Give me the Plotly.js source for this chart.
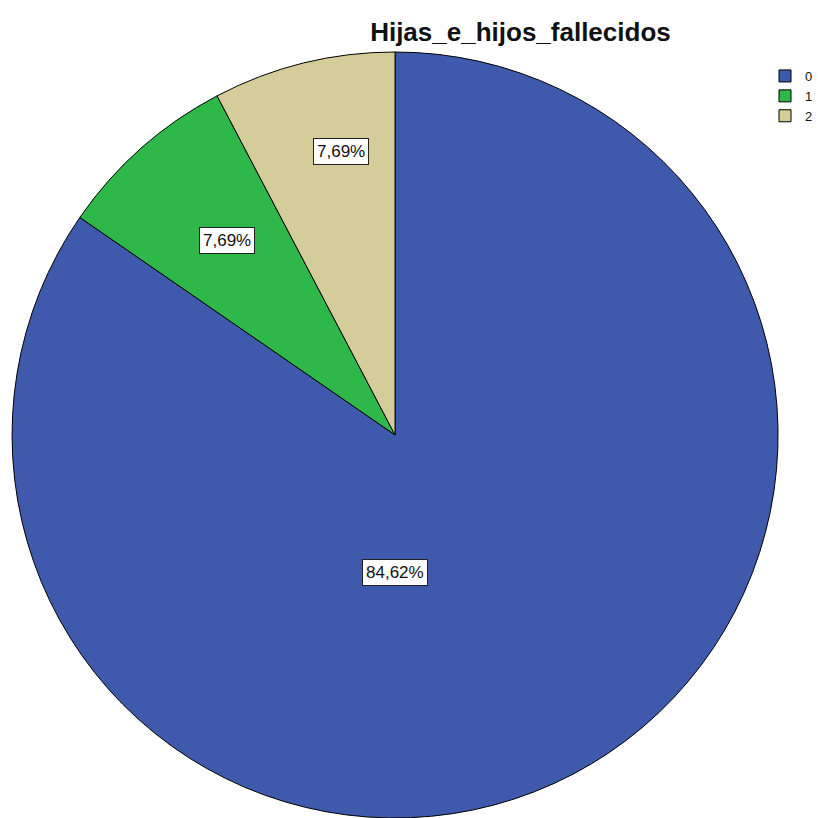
<!DOCTYPE html>
<html>
<head>
<meta charset="utf-8">
<script src="https://cdn.plot.ly/plotly-3.0.1.min.js"></script>
<style>html,body{margin:0;padding:0;background:#fff;}#chart{width:818px;height:818px;}</style>
</head>
<body>
<div id="chart"></div>
<script>
// Data
const categories = ["0", "1", "2"];
const counts = [11, 1, 1];
const sliceColors = ["#3F59AD", "#2EB84A", "#D4CC99"];
const chartTitle = "Hijas_e_hijos_fallecidos";

// Label box placement (layout, in pixels of the 818x818 page)
const labelPos = [[397, 572], [228, 241], [343, 152]];

const W = 818, H = 818;
const total = counts.reduce((a, b) => a + b, 0);
const pctText = counts.map(v => (v / total * 100).toFixed(2).replace('.', ',') + '%');

const FONT = '"Liberation Sans", Arial, sans-serif';

const trace = {
  type: 'pie',
  labels: categories,
  values: counts,
  sort: false,
  direction: 'clockwise',
  rotation: 0,
  textinfo: 'none',
  hoverinfo: 'label+percent',
  marker: { colors: sliceColors, line: { color: '#000000', width: 1 } },
  domain: { x: [12 / W, 782 / W], y: [0, 1 - 52 / H] }
};

const annotations = labelPos.map((p, i) => ({
  xref: 'paper', yref: 'paper',
  x: p[0] / W, y: 1 - p[1] / H,
  xanchor: 'center', yanchor: 'middle',
  text: pctText[i],
  showarrow: false,
  font: { family: FONT, size: 17, color: '#111111' },
  bgcolor: '#FFFFFF',
  bordercolor: '#222222',
  borderwidth: 1,
  borderpad: 3
}));

const layout = {
  width: W, height: H,
  margin: { l: 0, r: 0, t: 0, b: 0 },
  paper_bgcolor: '#FFFFFF',
  title: {
    text: '<b>' + chartTitle + '</b>',
    font: { family: FONT, size: 26, color: '#111111' },
    x: 523 / W, xanchor: 'center', xref: 'paper',
    y: 1 - 32 / H, yanchor: 'middle', yref: 'container'
  },
  showlegend: true,
  legend: {
    x: 769 / W, xanchor: 'left',
    y: 1 - 61 / H, yanchor: 'top',
    font: { family: FONT, size: 13, color: '#111111' },
    bgcolor: 'rgba(0,0,0,0)',
    borderwidth: 0,
    tracegroupgap: 0
  },
  annotations: annotations
};

Plotly.newPlot('chart', [trace], layout, { displayModeBar: false, staticPlot: true });
</script>
</body>
</html>
